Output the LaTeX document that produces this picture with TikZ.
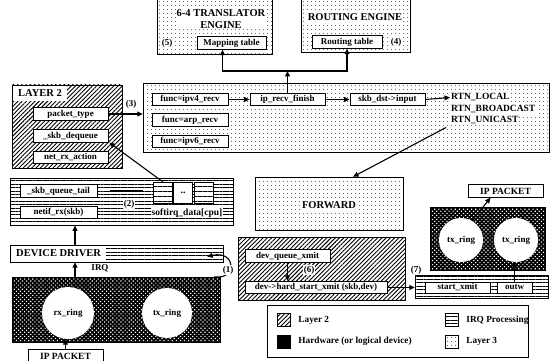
\documentclass[tikz,border=0pt]{standalone}
\usepackage{fontspec}
\setmainfont{Liberation Serif}
\usetikzlibrary{arrows.meta,positioning,patterns.meta}

\begin{document}
\begin{tikzpicture}[x=1pt,y=-1pt,
  lthree/.style={draw,thin,pattern={Dots[radius=0.55pt,distance=4pt]},inner sep=0pt},
  ltwo/.style={draw,thin,pattern={Lines[angle=45,distance=3pt,line width=0.9pt]},inner sep=0pt},
  irq/.style={draw,thin,pattern={Lines[angle=0,distance=3.4pt,line width=0.8pt]},inner sep=0pt},
  hw/.style={draw,thin,preaction={fill=black},pattern={Dots[radius=0.8pt,distance=2.9pt,angle=45]},pattern color=white,inner sep=0pt},
  cellq/.style={draw,thin,preaction={fill=white},pattern={Lines[angle=0,distance=5pt,line width=0.8pt]},minimum width=19pt,minimum height=21pt,inner sep=0pt},
  wbox/.style={draw,line width=0.9pt,fill=white,inner sep=0pt,minimum height=12.5pt,font=\fontsize{9}{10}\selectfont\bfseries},
  head/.style={fill=white,inner sep=1pt,font=\fontsize{10.5}{11.5}\selectfont\bfseries},
  tag/.style={fill=white,inner sep=1pt,font=\fontsize{9}{10}\selectfont\bfseries},
  rtn/.style={anchor=west,fill=white,inner sep=1pt,font=\fontsize{9.5}{10}\selectfont\bfseries},
  ring/.style={circle,fill=white,inner sep=0pt,font=\fontsize{9}{10}\selectfont\bfseries},
  keytxt/.style={inner sep=1pt,font=\fontsize{9.3}{10}\selectfont\bfseries},
  arr/.style={-{Triangle[length=5.5pt,width=5pt]},line width=1.1pt}]
  \useasboundingbox (0,0) rectangle (552,361);

  % Lookup engines
  \node[lthree,minimum width=115pt,minimum height=58pt] (trans) at (214.5,25) {};
  \node[head,align=center] (transtxt) at (221,19) {6-4 TRANSLATOR\\ENGINE};
  \node[tag] (five) at (167,43) {(5)};
  \node[wbox,minimum width=69pt] (maptab) at (231.5,43) {Mapping table};
  \node[lthree,minimum width=109pt,minimum height=56pt] (route) at (355.5,24) {};
  \node[head] (routetxt) at (355,17) {ROUTING ENGINE};
  \node[wbox,minimum width=70pt] (rttab) at (347,42) {Routing table};
  \node[tag] (four) at (396,42) {(4)};

  % Layer 3 receive path
  \node[lthree,minimum width=406pt,minimum height=69pt] (l3) at (346,117.5) {};
  \node[wbox,minimum width=76pt] (ipv4) at (190,99.5) {func=ipv4\_recv};
  \node[wbox,minimum width=76pt] (arp) at (190,120) {func=arp\_recv};
  \node[wbox,minimum width=76pt] (ipv6) at (190,141.5) {func=ipv6\_recv};
  \node[wbox,minimum width=75pt] (recv) at (287.5,99.5) {ip\_recv\_finish};
  \node[wbox,minimum width=75pt] (dst) at (387.5,99.5) {skb\_dst->input};
  \node[rtn] (rtnl) at (450,97.5) {RTN\_LOCAL};
  \node[rtn] (rtnb) at (450,109) {RTN\_BROADCAST};
  \node[rtn] (rtnu) at (450,120.5) {RTN\_UNICAST};

  % Layer 2 receive
  \node[ltwo,minimum width=110pt,minimum height=83pt] (l2top) at (67,126.5) {};
  \node[head,minimum width=54pt,minimum height=15pt] (l2txt) at (40,93.5) {LAYER 2};
  \node[wbox,minimum width=75pt] (ptype) at (70.5,114) {packet\_type};
  \node[wbox,minimum width=75pt] (deq) at (70.5,136) {\_skb\_dequeue};
  \node[wbox,minimum width=75pt] (rxact) at (70.5,157.5) {net\_rx\_action};

  % softirq backlog
  \node[irq,minimum width=223pt,minimum height=47pt] (softirq) at (121.5,201.5) {};
  \node[wbox,minimum width=77pt] (qtail) at (58.5,191) {\_skb\_queue\_tail};
  \node[wbox,minimum width=77pt] (netif) at (58.5,212.5) {netif\_rx(skb)};
  \node[cellq] (cellA) at (162.5,192.5) {};
  \node[draw,thin,fill=white,minimum width=19pt,minimum height=21pt,inner sep=0pt,font=\bfseries] (cellB) at (183,192.5) {..};
  \node[cellq] (cellC) at (204,192.5) {};
  \node[tag] (two) at (129,204) {(2)};
  \node[tag,font=\fontsize{9.5}{10}\selectfont\bfseries] (sdata) at (187,213) {softirq\_data[cpu]};

  % Device driver and NIC
  \node[irq,minimum width=213pt,minimum height=17pt] (driver) at (116.5,253.5) {};
  \node[head,anchor=west,inner xsep=5pt,minimum height=15pt] (drvtxt) at (11,253.5) {DEVICE DRIVER};
  \node[hw,minimum width=208pt,minimum height=65pt] (hwL) at (116,309.5) {};
  \node[ring,minimum size=52pt] (rx) at (68,313) {rx\_ring};
  \node[ring,minimum size=50pt] (txL) at (167,313) {tx\_ring};
  \node[wbox,font=\fontsize{9.5}{10}\selectfont\bfseries,minimum width=75pt,minimum height=14pt] (ipL) at (65.5,356.5) {IP PACKET};
  \node[tag,fill=none] (irqtxt) at (100,268.5) {IRQ};
  \node[tag] (one) at (228,270) {(1)};
  \coordinate (upx) at (75,0);

  % Forwarding and transmit
  \node[lthree,minimum width=148pt,minimum height=53pt] (fwd) at (329,203.5) {};
  \node[head] (fwdtxt) at (329,205) {FORWARD};
  \node[ltwo,minimum width=167pt,minimum height=63pt] (l2bot) at (321.5,268.5) {};
  \node[wbox,minimum width=85pt] (dqx) at (287.5,256) {dev\_queue\_xmit};
  \node[wbox,minimum width=142pt] (hsx) at (316,287.5) {dev->hard\_start\_xmit (skb,dev)};
  \node[tag] (six) at (309,270) {(6)};
  \node[irq,minimum width=133pt,minimum height=23pt] (irqR) at (481.5,286.5) {};
  \node[wbox,minimum width=65pt,minimum height=11pt] (sx) at (457.5,287.5) {start\_xmit};
  \node[wbox,minimum width=35pt,minimum height=11pt] (outw) at (514.5,287.5) {outw};
  \node[tag,fill=none] (seven) at (416,270) {(7)};
  \node[hw,minimum width=115pt,minimum height=63pt] (hwR) at (487.5,238.5) {};
  \node[ring,minimum size=44pt] (txA) at (461,240) {tx\_ring};
  \node[ring,minimum size=44pt] (txB) at (516,240) {tx\_ring};
  \node[wbox,font=\fontsize{9.5}{10}\selectfont\bfseries,minimum width=75pt] (ipR) at (505.5,191) {IP PACKET};

  % Connectors
  \coordinate (bus) at (287.5,71);
  \draw[arr] (recv.north) -- (bus);
  \draw[arr] (bus) -| ([xshift=-9pt]maptab.south);
  \draw[arr] (bus) -| (rttab.south);
  \draw[arr] (ptype.east) -- (ptype.east -| l3.west);
  \node[tag,fill=none] (three) at (131,104) {(3)};
  \draw[arr] (ipv4.east) -- (recv.west);
  \draw[arr] (recv.east) -- (dst.west);
  \draw[arr] (dst.east) -- (rtnl.west);
  \draw[arr] ([xshift=-4pt,yshift=-2pt]rtnu.south west) -- ([xshift=24pt]fwd.north);
  \draw[arr] (cellA.north) -- ([xshift=1pt]deq.south east);
  \draw[line width=2.2pt] ([xshift=13pt]qtail.east) -- ([xshift=-10pt]cellA.west |- qtail.east);
  \draw[arr] (driver.north -| upx) -- (softirq.south -| upx);
  \draw[arr] (hwL.north -| upx) -- (driver.south -| upx);
  \draw[arr] ([xshift=-6pt]hwL.north east) .. controls (238,280) and (236,250) .. ([xshift=-16pt,yshift=-3pt]driver.east);
  \node[tag] at (one) {(1)};
  \draw[arr] (ipL.north) -- (ipL.north |- rx.south);
  \draw[arr] (dqx.south) -- (dqx.south |- hsx.north);
  \node[tag] at (six) {(6)};
  \draw[arr] (hsx.east) -- (hsx.east -| irqR.west);
  \draw[arr] (outw.north) -- (outw.north |- txB.south);
  \draw[arr] (txA.60) -- ([xshift=-15pt]ipR.south);

  % Legend
  \node[draw,thin,fill=white,minimum width=261pt,minimum height=52pt] (legend) at (397.5,331) {};
  \node[ltwo,minimum size=13pt] (keyl2) at (283.5,320) {};
  \node[keytxt,right=7pt of keyl2] {Layer 2};
  \node[draw,fill=black,minimum size=13pt] (keyhw) at (283.5,341.5) {};
  \node[keytxt,right=7pt of keyhw] {Hardware (or logical device)};
  \node[irq,minimum size=13pt] (keyirq) at (451.5,320) {};
  \node[keytxt,right=7pt of keyirq] {IRQ Processing};
  \node[lthree,minimum size=13pt] (keyl3) at (451.5,341.5) {};
  \node[keytxt,right=7pt of keyl3] {Layer 3};
\end{tikzpicture}
\end{document}
